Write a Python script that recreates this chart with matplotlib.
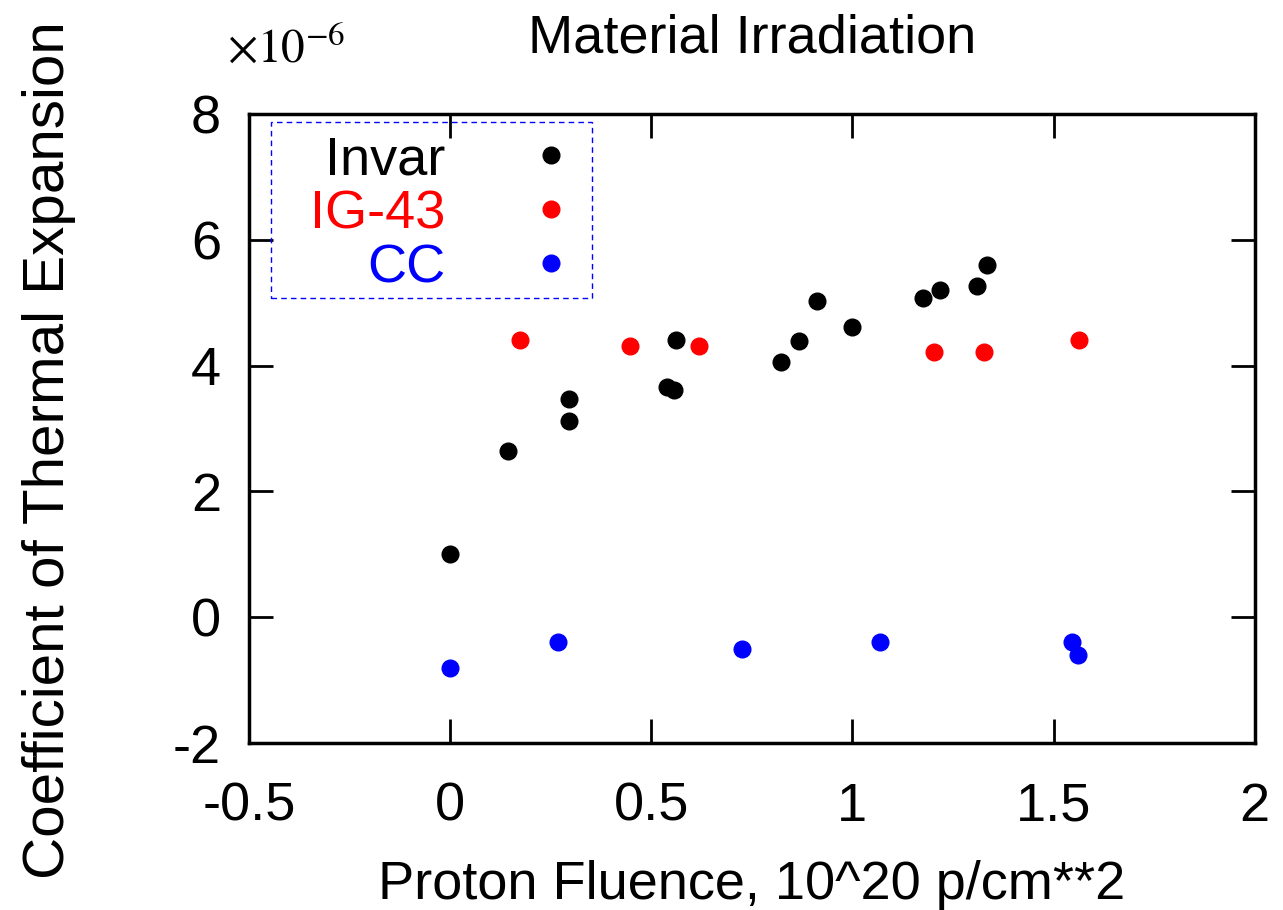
import numpy as np
import matplotlib
matplotlib.use("Agg")
import matplotlib.pyplot as plt
from matplotlib.patches import Rectangle

plt.rcParams['font.family'] = ['Liberation Sans', 'DejaVu Sans']
plt.rcParams['mathtext.fontset'] = 'stix'

# dados (CTE em unidades de 1e-6)
invar_x = [0.0, 0.144, 0.296, 0.296, 0.539, 0.557, 0.562, 0.823, 0.867, 0.912,
           1.0, 1.175, 1.218, 1.31, 1.334]
invar_y = [1.0, 2.64, 3.47, 3.12, 3.66, 3.62, 4.40, 4.05, 4.39, 5.02,
           4.61, 5.07, 5.20, 5.26, 5.60]

ig43_x = [0.174, 0.447, 0.619, 1.203, 1.327, 1.563]
ig43_y = [4.40, 4.31, 4.31, 4.21, 4.21, 4.40]

cc_x = [0.0, 0.268, 0.726, 1.069, 1.546, 1.561]
cc_y = [-0.81, -0.40, -0.51, -0.40, -0.40, -0.60]

xticks = [-0.5, 0, 0.5, 1, 1.5, 2]
xtick_labels = ["-0.5", "0", "0.5", "1", "1.5", "2"]
yticks = [-2, 0, 2, 4, 6, 8]
ytick_labels = ["-2", "0", "2", "4", "6", "8"]

fig = plt.figure(figsize=(12.83, 9.10), dpi=100)
ax = fig.add_axes([0.194, 0.1835, 0.784, 0.6912])

fs = 39
ms = 12
ax.plot(invar_x, invar_y, 'o', color='black', ms=ms, label='Invar')
ax.plot(ig43_x, ig43_y, 'o', color='red', ms=ms, label='IG-43')
ax.plot(cc_x, cc_y, 'o', color='blue', ms=ms, label='CC')

ax.set_xlim(-0.5, 2)
ax.set_ylim(-2, 8)
ax.set_xticks(xticks)
ax.set_xticklabels(xtick_labels)
ax.set_yticks(yticks)
ax.set_yticklabels(ytick_labels)
ax.tick_params(direction='in', length=17, width=2, top=True, right=True,
               labelsize=fs)
ax.tick_params(axis='x', pad=28)
ax.tick_params(axis='y', pad=20)
for s in ax.spines.values():
    s.set_linewidth(2.5)

ax.set_title("Material Irradiation", fontsize=fs, pad=44)
ax.set_xlabel("Proton Fluence, 10^20 p/cm**2", fontsize=fs, labelpad=20)
ax.set_ylabel("Coefficient of Thermal Expansion", fontsize=42)
ax.yaxis.set_label_coords(-0.172, 0.466)

fig.text(0.177, 0.945, r"$\times 10^{-6}$", fontsize=34, va='center', ha='left')

# caixa da legenda (tracejada azul)
ax.add_patch(Rectangle((0.0219, 0.7075), 0.319, 0.2795, transform=ax.transAxes,
                       fill=False, edgecolor='blue', lw=1.0,
                       linestyle=(0, (4, 3)), zorder=5))

leg = ax.legend(loc='upper left', bbox_to_anchor=(0.0606, 0.966), markerfirst=False,
                labelcolor='markerfacecolor', fontsize=fs, frameon=False,
                handlelength=1.0, handletextpad=1.46, labelspacing=0.074,
                borderpad=0, borderaxespad=0)

plt.savefig("out.png", dpi=100)
